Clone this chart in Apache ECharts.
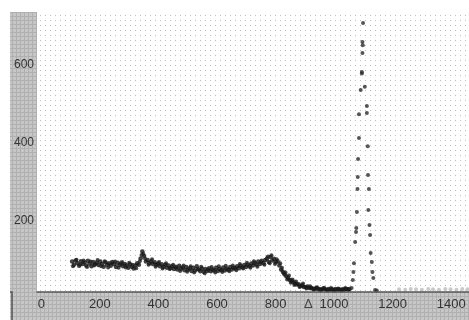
<!DOCTYPE html>
<html>
<head>
<meta charset="utf-8">
<script src="https://cdn.jsdelivr.net/npm/echarts@6/dist/echarts.min.js"></script>
<style>
  html, body { margin: 0; padding: 0; background: #fff; }
  #main { width: 469px; height: 320px; }
</style>
</head>
<body>
<div id="main"></div>
<script>
// tick labels
var xTicks = [0, 200, 400, 600, 800, 1000, 1200, 1400];
var yTicks = [200, 400, 600];

// broad band of counts, 100..1050
var bandPts = [
  [105, 96], [111, 88], [117, 99], [123, 92], [129, 85], [135, 97], [141, 90], [147, 94],
  [153, 86], [159, 98], [165, 91], [171, 84], [177, 95], [183, 89], [189, 93], [195, 87],
  [201, 96], [207, 90], [213, 83], [219, 94], [225, 88], [231, 92], [237, 85], [243, 95],
  [249, 89], [255, 82], [261, 93], [267, 87], [273, 91], [279, 84], [285, 90], [291, 86],
  [297, 80], [303, 89], [309, 83], [315, 78], [321, 86], [327, 92], [333, 88], [339, 104],
  [345, 122], [351, 110], [357, 96], [363, 100], [369, 92], [375, 97], [381, 90], [387, 94],
  [393, 87], [399, 91], [405, 84], [411, 89], [417, 82], [423, 88], [429, 80], [435, 86],
  [441, 79], [447, 84], [453, 77], [459, 83], [465, 76], [471, 85], [477, 78], [483, 81],
  [489, 74], [495, 82], [501, 75], [507, 79], [513, 72], [519, 80], [525, 73], [531, 84],
  [537, 76], [543, 71], [549, 78], [555, 70], [561, 77], [567, 72], [573, 79], [579, 71],
  [585, 76], [591, 73], [597, 80], [603, 72], [609, 77], [615, 74], [621, 81], [627, 73],
  [633, 78], [639, 75], [645, 82], [651, 76], [657, 80], [663, 78], [669, 84], [675, 79],
  [681, 85], [687, 81], [693, 87], [699, 82], [705, 88], [711, 84], [717, 91], [723, 86],
  [729, 93], [735, 88], [741, 96], [747, 90], [753, 98], [759, 92], [765, 100], [771, 104],
  [777, 95], [783, 108], [789, 99], [795, 103], [801, 94], [807, 97], [813, 86], [819, 76],
  [825, 70], [831, 63], [837, 58], [843, 54], [849, 49], [855, 46], [861, 43], [867, 40],
  [873, 37], [879, 38], [885, 33], [891, 35], [897, 31], [903, 30], [909, 32], [915, 28],
  [921, 29], [927, 27], [933, 26], [939, 28], [945, 25], [951, 26], [957, 24], [963, 27],
  [969, 25], [975, 23], [981, 26], [987, 24], [993, 25], [999, 23], [1005, 26], [1011, 24],
  [1017, 25], [1023, 23], [1029, 25], [1035, 24], [1041, 26], [1047, 25], [1053, 26]
];

// extra scatter inside the band (interleaved readings)
var bandPts2 = [
  [108, 84], [120, 101], [132, 88], [144, 99], [156, 82], [168, 96], [180, 86], [192, 100],
  [204, 84], [216, 97], [228, 81], [240, 92], [252, 96], [264, 80], [276, 95], [288, 81],
  [300, 93], [312, 88], [324, 79], [336, 97], [342, 113], [348, 116], [354, 104], [366, 88],
  [378, 102], [390, 83], [402, 95], [414, 78], [426, 92], [438, 77], [450, 88], [462, 80],
  [474, 72], [486, 86], [498, 70], [510, 84], [522, 68], [534, 77], [546, 83], [558, 66],
  [570, 75], [582, 82], [594, 68], [606, 84], [618, 69], [630, 85], [642, 71], [654, 86],
  [666, 74], [678, 90], [690, 78], [702, 93], [714, 80], [726, 97], [738, 83], [750, 94],
  [762, 88], [774, 109], [780, 92], [786, 112], [798, 90], [804, 102], [816, 92], [822, 80],
  [828, 66], [834, 68], [840, 50], [846, 60], [852, 42], [858, 50], [864, 36], [870, 45],
  [882, 31], [894, 40], [906, 27], [918, 33], [930, 24], [942, 30], [954, 22], [966, 29],
  [978, 22], [990, 28], [1002, 21], [1014, 27], [1026, 22], [1038, 28], [1050, 23]
];

// sharp peak near 1100
var peakPts = [
  [1060, 28], [1064, 49], [1066, 69], [1068, 92], [1072, 146], [1075, 172], [1076, 182],
  [1078, 223], [1080, 282], [1081, 313], [1082, 359], [1085, 413], [1085, 474], [1091, 536],
  [1095, 582], [1095, 578], [1097, 631], [1098, 651], [1097, 659], [1099, 708], [1105, 544],
  [1112, 495], [1112, 477], [1115, 392], [1116, 318], [1119, 282], [1117, 228], [1121, 190],
  [1123, 164], [1125, 118], [1129, 95], [1131, 69], [1134, 54], [1140, 23], [1146, 22]
];

// faint points after the peak
var tailPts = [
  [1222, 25], [1243, 24], [1262, 26], [1280, 25], [1300, 24], [1322, 26], [1338, 25],
  [1358, 24], [1380, 26], [1398, 25], [1418, 24], [1438, 26], [1456, 25]
];

function makePattern(size, base, dot, lines) {
  var c = document.createElement('canvas');
  c.width = size; c.height = size;
  var g = c.getContext('2d');
  if (base) { g.fillStyle = base; g.fillRect(0, 0, size, size); }
  g.fillStyle = dot;
  if (lines) {
    g.fillRect(0, 0, size, 1);
    g.fillRect(0, 0, 1, size);
  } else {
    g.fillRect(0, 0, 1, 1);
  }
  return c;
}

var chart = echarts.init(document.getElementById('main'));
var lblFont = '"Liberation Sans", Arial, sans-serif';

var option = {
  animation: false,
  backgroundColor: '#fff',
  grid: { left: 37, top: 12, right: 0, bottom: 28 },
  graphic: [
    // dotted plot background
    { type: 'rect', z: -10, shape: { x: 37, y: 12, width: 432, height: 280 },
      style: { fill: { image: makePattern(5, null, '#bcbcbc', false), repeat: 'repeat' } } },
    // gray frame bands
    { type: 'rect', z: -5, shape: { x: 10, y: 12, width: 27, height: 308 },
      style: { fill: { image: makePattern(4, '#c6c6c6', '#b0b0b0', true), repeat: 'repeat' } } },
    { type: 'rect', z: -5, shape: { x: 37, y: 292, width: 432, height: 28 },
      style: { fill: { image: makePattern(4, '#c6c6c6', '#b0b0b0', true), repeat: 'repeat' } } },
    { type: 'polyline', z: -4, shape: { points: [[10, 292], [12, 292], [12, 320]] },
      style: { stroke: '#555', lineWidth: 1.5, fill: null } },
    { type: 'text', z: 10, x: 304, y: 298,
      style: { text: 'Δ', fill: '#444', font: '13px ' + lblFont } }
  ],
  xAxis: {
    type: 'value',
    min: -15,
    max: 1461,
    z: 5,
    axisLine: { show: true, lineStyle: { color: '#555', width: 1.5 } },
    axisTick: { show: false },
    splitLine: { show: false },
    axisLabel: {
      customValues: xTicks,
      formatter: function (v) { return String(v); },
      margin: 6,
      color: '#333',
      fontSize: 13,
      fontFamily: lblFont
    }
  },
  yAxis: {
    type: 'value',
    min: 18,
    max: 736,
    z: 5,
    axisLine: { show: false },
    axisTick: { show: false },
    splitLine: { show: false },
    axisLabel: {
      customValues: yTicks,
      formatter: function (v) { return String(v); },
      margin: 3,
      color: '#333',
      fontSize: 12,
      fontFamily: lblFont
    }
  },
  series: [
    {
      type: 'scatter',
      data: bandPts,
      symbolSize: 4.5,
      itemStyle: { color: '#141414' },
      z: 3
    },
    {
      type: 'scatter',
      data: bandPts2,
      symbolSize: 4,
      itemStyle: { color: '#1c1c1c' },
      z: 3
    },
    {
      type: 'scatter',
      data: peakPts,
      symbolSize: 4,
      itemStyle: { color: '#2a2a2a' },
      z: 3
    },
    {
      type: 'scatter',
      data: tailPts,
      symbolSize: 4,
      itemStyle: { color: '#bdbdbd' },
      z: 3
    }
  ]
};
chart.setOption(option);
window.addEventListener('resize', function () { chart.resize(); });
</script>
</body>
</html>
